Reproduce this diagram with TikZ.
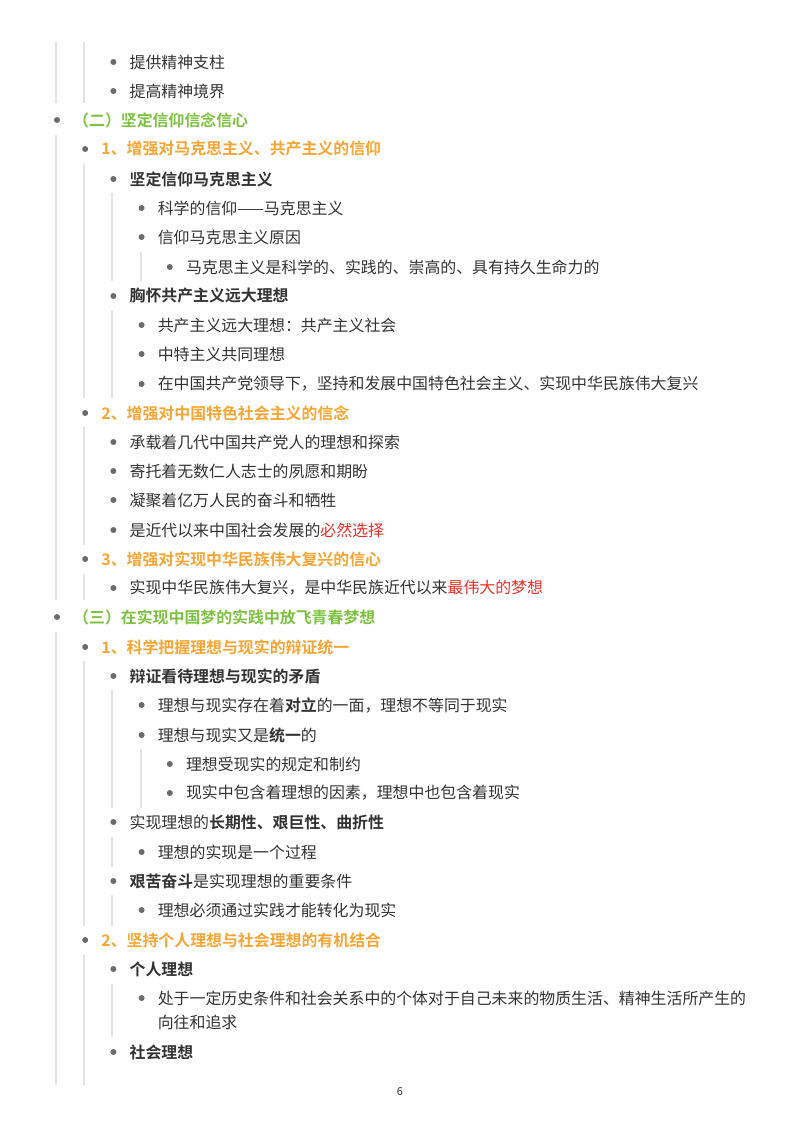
\documentclass[tikz,border=0pt]{standalone}
\usepackage{fontspec}
\setmainfont{Noto Sans CJK SC}[BoldFont={Noto Sans CJK SC Bold}]
\definecolor{tx}{HTML}{333333}
\definecolor{gn}{HTML}{7DC242}
\definecolor{og}{HTML}{F7A534}
\definecolor{rd}{HTML}{E8312A}
\definecolor{gl}{HTML}{E3E3E3}
\definecolor{bl}{HTML}{6B6B6B}
\newcommand\itm[4]{% name, level, y, text
  \pgfmathsetmacro\bx{57+28.2*#2}
  \fill[bl] (\bx,#3) circle (3);
  \node[txt] (#1) at (\bx+16,#3) {#4};}
\newcommand\gline[3]{\draw[guide] (#1,#2) -- (#1,#3);}
\begin{document}
\begin{tikzpicture}[x=1pt,y=-1pt,
  txt/.style={anchor=west,inner sep=0pt,text=tx,font=\fontsize{15.9}{18}\selectfont},
  guide/.style={gl,line width=1.3pt}]
\useasboundingbox (0,0) rectangle (800,1132);
% guide lines
\gline{56}{42}{103}\gline{84}{42}{103}
\gline{56}{135}{600}
\gline{84}{164}{398}\gline{84}{427}{545}\gline{84}{574}{600}
\gline{112}{193}{281}\gline{112}{310}{398}
\gline{141}{252}{281}
\gline{56}{632}{1085}
\gline{84}{661}{926}\gline{84}{955}{1085}
\gline{112}{690}{808}\gline{141}{749}{808}
\gline{112}{837}{867}\gline{112}{895}{926}
\gline{112}{984}{1037}
% items
\itm{a1}{2}{62}{提供精神支柱}
\itm{a2}{2}{91}{提高精神境界}
\itm{b0}{0}{120}{\textcolor{gn}{\textbf{（二）坚定信仰信念信心}}}
\itm{b1}{1}{149}{\textcolor{og}{\textbf{1、增强对马克思主义、共产主义的信仰}}}
\itm{b2}{2}{179}{\textbf{坚定信仰马克思主义}}
\itm{b3}{3}{208}{科学的信仰——马克思主义}
\itm{b4}{3}{237}{信仰马克思主义原因}
\itm{b5}{4}{267}{马克思主义是科学的、实践的、崇高的、具有持久生命力的}
\itm{b6}{2}{296}{\textbf{胸怀共产主义远大理想}}
\itm{b7}{3}{325}{共产主义远大理想：共产主义社会}
\itm{b8}{3}{354}{中特主义共同理想}
\itm{b9}{3}{384}{在中国共产党领导下，坚持和发展中国特色社会主义、实现中华民族伟大复兴}
\itm{c1}{1}{413}{\textcolor{og}{\textbf{2、增强对中国特色社会主义的信念}}}
\itm{c2}{2}{442}{承载着几代中国共产党人的理想和探索}
\itm{c3}{2}{471}{寄托着无数仁人志士的夙愿和期盼}
\itm{c4}{2}{500}{凝聚着亿万人民的奋斗和牺牲}
\itm{c5}{2}{530}{是近代以来中国社会发展的\textcolor{rd}{必然选择}}
\itm{d1}{1}{559}{\textcolor{og}{\textbf{3、增强对实现中华民族伟大复兴的信心}}}
\itm{d2}{2}{588}{实现中华民族伟大复兴，是中华民族近代以来\textcolor{rd}{最伟大的梦想}}
\itm{e0}{0}{617}{\textcolor{gn}{\textbf{（三）在实现中国梦的实践中放飞青春梦想}}}
\itm{e1}{1}{647}{\textcolor{og}{\textbf{1、科学把握理想与现实的辩证统一}}}
\itm{e2}{2}{676}{\textbf{辩证看待理想与现实的矛盾}}
\itm{e3}{3}{705}{理想与现实存在着\textbf{对立}的一面，理想不等同于现实}
\itm{e4}{3}{735}{理想与现实又是\textbf{统一}的}
\itm{e5}{4}{764}{理想受现实的规定和制约}
\itm{e6}{4}{793}{现实中包含着理想的因素，理想中也包含着现实}
\itm{e7}{2}{822}{实现理想的\textbf{长期性、艰巨性、曲折性}}
\itm{e8}{3}{852}{理想的实现是一个过程}
\itm{e9}{2}{881}{\textbf{艰苦奋斗}是实现理想的重要条件}
\itm{e10}{3}{910}{理想必须通过实践才能转化为现实}
\itm{f1}{1}{940}{\textcolor{og}{\textbf{2、坚持个人理想与社会理想的有机结合}}}
\itm{f2}{2}{969}{\textbf{个人理想}}
\itm{f3}{3}{998}{处于一定历史条件和社会关系中的个体对于自己未来的物质生活、精神生活所产生的}
\node[txt] (f3b) at (157.6,1022) {向往和追求};
\itm{f4}{2}{1052}{\textbf{社会理想}}
\node[txt,font=\fontsize{11}{13}\selectfont,anchor=center] (pg) at (400,1092) {6};
\end{tikzpicture}
\end{document}
